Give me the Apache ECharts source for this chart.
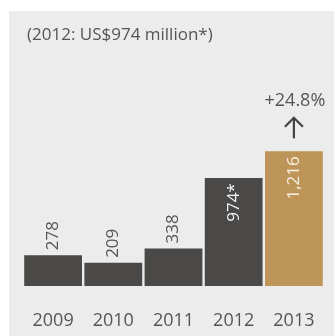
<!DOCTYPE html>
<html>
<head>
<meta charset="utf-8">
<script src="https://cdn.jsdelivr.net/npm/echarts@6/dist/echarts.min.js"></script>
<style>
  html, body { margin: 0; padding: 0; background: #ffffff; }
  #chart { width: 335px; height: 336px; }
</style>
</head>
<body>
<div id="chart"></div>
<script>
// Revenue by year, US$ million
const years = ['2009', '2010', '2011', '2012', '2013'];
const revenue = [278, 209, 338, 974, 1216];
const valueLabels = ['278', '209', '338', '974*', '1,216'];
const subtitle = '(2012: US$974 million*)';
const growthLabel = '+24.8%';

const FONT = '"Open Sans", sans-serif';
const TEXT = '#555555';
const DARK = '#4a4948';
const GOLD = '#be9559';

const chart = echarts.init(document.getElementById('chart'), null, { renderer: 'canvas' });

const barData = revenue.map((v, i) => {
  const last = i === revenue.length - 1;
  const inside = v > 600;
  return {
    value: v,
    itemStyle: { color: last ? GOLD : DARK },
    label: inside
      ? { position: 'insideTop', align: 'right', distance: 5, color: last ? '#f7efe1' : '#f2f2f2' }
      : { position: 'top', align: 'left', distance: 5, color: TEXT }
  };
});

chart.setOption({
  backgroundColor: '#ffffff',
  animation: false,
  title: {
    text: subtitle,
    left: 22,
    top: 22,
    textStyle: { fontFamily: FONT, fontSize: 17, fontWeight: 'normal', color: TEXT }
  },
  grid: { left: 23, right: 11, top: 142, bottom: 50, containLabel: false },
  xAxis: {
    type: 'category',
    data: years,
    axisLine: { show: false },
    axisTick: { show: false },
    axisLabel: { margin: 26, fontFamily: FONT, fontSize: 18, color: TEXT }
  },
  yAxis: {
    type: 'value',
    min: 0,
    max: 1300,
    show: false,
    splitLine: { show: false }
  },
  series: [{
    type: 'bar',
    data: barData,
    barCategoryGap: '4%',
    label: {
      show: true,
      rotate: 90,
      verticalAlign: 'middle',
      fontFamily: FONT,
      fontSize: 17,
      formatter: p => valueLabels[p.dataIndex]
    }
  }]
});

// Panel background plus the growth annotation above the latest bar
const lastIdx = revenue.length - 1;
const barTop = chart.convertToPixel({ seriesIndex: 0 }, [lastIdx, revenue[lastIdx]]);
const cx = barTop[0];
const cy = barTop[1];

chart.setOption({
  graphic: [
    {
      type: 'rect',
      z: -10,
      silent: true,
      shape: { x: 9, y: 11, width: 325, height: 325 },
      style: { fill: '#ececec' }
    },
    {
      type: 'polyline',
      silent: true,
      shape: { points: [[cx, cy - 13], [cx, cy - 34]] },
      style: { stroke: '#444444', lineWidth: 2.2, fill: null }
    },
    {
      type: 'polyline',
      silent: true,
      shape: { points: [[cx - 9, cy - 24.5], [cx, cy - 33.5], [cx + 9, cy - 24.5]] },
      style: { stroke: '#444444', lineWidth: 2.2, fill: null }
    },
    {
      type: 'text',
      silent: true,
      x: cx + 1,
      y: cy - 41,
      style: {
        text: growthLabel,
        fontFamily: FONT,
        fontSize: 18,
        fill: TEXT,
        align: 'center',
        verticalAlign: 'bottom'
      }
    }
  ]
});
</script>
</body>
</html>
